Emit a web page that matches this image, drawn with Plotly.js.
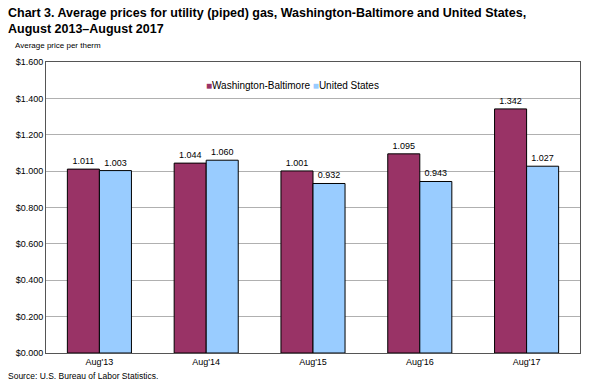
<!DOCTYPE html>
<html>
<head>
<meta charset="utf-8">
<script src="https://cdn.plot.ly/plotly-3.0.1.min.js"></script>
<style>html,body{margin:0;padding:0;background:#fff;}#chart{width:589px;height:387px;}</style>
</head>
<body>
<div id="chart"></div>
<script>
var categories = ["Aug'13", "Aug'14", "Aug'15", "Aug'16", "Aug'17"];
var washBalt = [1.011, 1.044, 1.001, 1.095, 1.342];
var unitedStates = [1.003, 1.060, 0.932, 0.943, 1.027];
var yTickVals = [0, 0.2, 0.4, 0.6, 0.8, 1.0, 1.2, 1.4, 1.6];
var yTickText = ["$0.000", "$0.200", "$0.400", "$0.600", "$0.800", "$1.000", "$1.200", "$1.400", "$1.600"];
var seriesNames = ["Washington-Baltimore", "United States"];
var seriesColors = ["#993366", "#99CCFF"];

var font = "Liberation Sans, Arial, sans-serif";
function mk(i, vals) {
  return {type: "bar", name: seriesNames[i], x: categories, y: vals,
   marker: {color: seriesColors[i], line: {color: "#000", width: 1}},
   text: vals.map(function(v){return v.toFixed(3);}), textposition: "outside",
   textfont: {family: font, size: 9, color: "#000"}, cliponaxis: false};
}
var traces = [mk(0, washBalt), mk(1, unitedStates)];
var legendText = '<span style="color:' + seriesColors[0] + '">\u25A0</span>' + seriesNames[0] +
  ' <span style="color:' + seriesColors[1] + '">\u25A0</span>' + seriesNames[1];
var layout = {
  width: 589, height: 387,
  margin: {l: 46, r: 9, t: 62, b: 34},
  paper_bgcolor: "#fff", plot_bgcolor: "#fff",
  font: {family: font, size: 9, color: "#000"},
  showlegend: false,
  bargap: 0.4, bargroupgap: 0,
  xaxis: {type: "category", showline: true, linecolor: "#555", linewidth: 1, mirror: true,
          ticks: "", tickfont: {family: font, size: 9}, showgrid: false},
  yaxis: {range: [0, 1.6], tickvals: yTickVals, ticktext: yTickText, showline: true, linecolor: "#555",
          linewidth: 1, mirror: true, showgrid: true, gridcolor: "#b0b0b0", gridwidth: 1,
          ticks: "", tickfont: {family: font, size: 9}, zeroline: false, fixedrange: true},
  annotations: [
    {text: "<b>Chart 3. Average prices for utility (piped) gas, Washington-Baltimore and United States,<br>August 2013\u2013August 2017</b>",
     xref: "paper", yref: "paper", x: -0.075, y: 1.2, xanchor: "left", yanchor: "top", align: "left",
     showarrow: false, font: {family: font, size: 12.5, color: "#000"}},
    {text: "Average price per therm", xref: "paper", yref: "paper", x: -0.062, y: 1.057,
     xanchor: "left", yanchor: "middle", showarrow: false, font: {family: font, size: 8}},
    {text: legendText, xref: "paper", yref: "paper", x: 0.295, y: 0.918,
     xanchor: "left", yanchor: "middle", showarrow: false, font: {family: font, size: 10, color: "#000"}},
    {text: "Source: U.S. Bureau of Labor Statistics.", xref: "paper", yref: "paper", x: -0.074, y: -0.078,
     xanchor: "left", yanchor: "middle", showarrow: false, font: {family: font, size: 8.5}}
  ]
};
Plotly.newPlot("chart", traces, layout, {displayModeBar: false, staticPlot: true});
</script>
</body>
</html>
